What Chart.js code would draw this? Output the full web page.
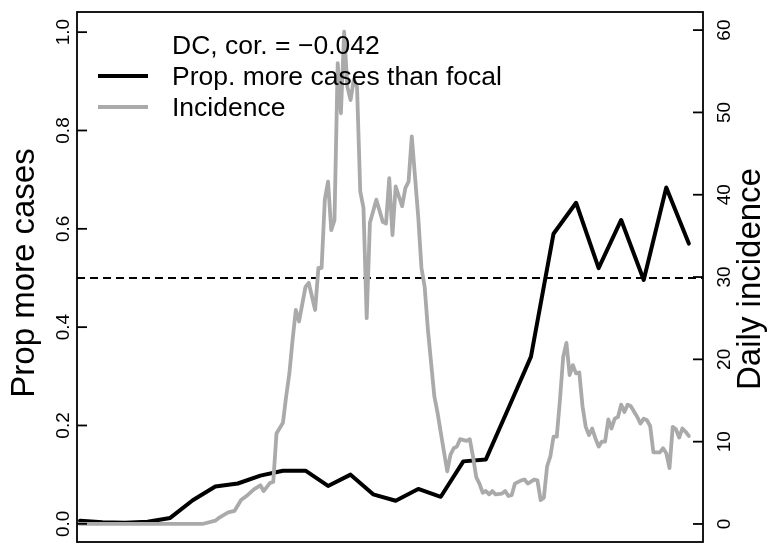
<!DOCTYPE html>
<html>
<head>
<meta charset="utf-8">
<script src="https://cdn.jsdelivr.net/npm/chart.js@4"></script>
<style>
  body { margin: 0; background: #fff; }
  canvas { display: block; }
</style>
</head>
<body>
<canvas id="propChart" width="768" height="544"></canvas>
<script>
// weekly proportion of places with more cases than the focal one
const weekDays = [0, 7, 14, 21, 28, 35, 42, 49, 56, 63, 70, 77, 84, 91, 98, 105, 112, 119, 126, 133, 140, 147, 154, 161, 168, 175, 182, 189];
const propMore = [0.006, 0.003, 0.002, 0.004, 0.012, 0.048, 0.076, 0.082, 0.098, 0.108, 0.108, 0.077, 0.100, 0.060, 0.047, 0.071, 0.055, 0.127, 0.131, 0.235, 0.340, 0.590, 0.653, 0.520, 0.618, 0.496, 0.684, 0.570];

// daily incidence (right axis)
const incDays = [0, 38, 42, 43, 46, 48, 50, 52, 54, 56, 57, 59, 60, 61, 63, 64, 65, 66, 67, 68, 70, 71, 73, 74, 75, 76, 77, 78, 79, 80, 81, 82, 83, 84, 85, 86, 87, 88, 89, 90, 92, 94, 95, 96, 97, 98, 100, 101, 102, 103, 104, 105, 106, 107, 108, 110, 111, 112, 114, 115, 116, 117, 118, 120, 121, 122, 123, 124, 125, 126, 127, 128, 129, 131, 132, 133, 134, 135, 137, 138, 139, 141, 142, 143, 144, 145, 146, 147, 148, 149, 150, 151, 152, 153, 154, 155, 156, 157, 158, 159, 160, 161, 162, 163, 164, 165, 166, 167, 168, 169, 170, 171, 173, 174, 175, 176, 177, 178, 180, 181, 182, 183, 184, 185, 186, 187, 188, 189];
const incidence = [0, 0, 0.4, 0.7, 1.4, 1.6, 2.9, 3.5, 4.2, 4.7, 4.0, 5.0, 5.1, 11, 12.3, 15.5, 18.3, 22.4, 26, 24.6, 28.8, 29.3, 26, 31.1, 31.1, 39.4, 41.6, 35.7, 36.9, 56, 49.9, 59.8, 53.1, 51.5, 54, 53.1, 40.4, 38.4, 25, 36.6, 39.4, 36.7, 36.5, 42, 35.1, 41, 38.6, 40.8, 41.6, 47.1, 42.2, 37.3, 31.1, 28.8, 23.6, 15.5, 13.5, 11.1, 6.4, 8.4, 9.2, 9.4, 10.3, 10.1, 10.3, 8.2, 5.7, 4.9, 3.8, 4.0, 3.6, 4.0, 3.6, 3.7, 4.0, 3.4, 3.5, 4.9, 5.3, 5.4, 4.9, 5.4, 5.3, 2.9, 3.2, 7.0, 8.2, 10.6, 10.6, 15.1, 20.3, 22.0, 18.1, 19.3, 18.3, 18.4, 14.3, 11.8, 10.8, 11.6, 10.4, 9.4, 10.0, 10.0, 12.7, 11.6, 12.8, 13.0, 14.5, 13.6, 14.5, 14.3, 13.0, 12.2, 12.8, 12.6, 11.9, 8.7, 8.7, 9.2, 8.6, 6.8, 11.8, 11.5, 10.5, 11.6, 11.2, 10.7];

const leftTicks = [0, 0.2, 0.4, 0.6, 0.8, 1.0];
const leftTickLabels = ["0.0", "0.2", "0.4", "0.6", "0.8", "1.0"];
const rightTicks = [0, 10, 20, 30, 40, 50, 60];
const rightTickLabels = ["0", "10", "20", "30", "40", "50", "60"];
const refLine = 0.5;

const leftTitle = "Prop more cases";
const rightTitle = "Daily incidence";
const legendTitle = "DC, cor. = \u22120.042";
const legendLabels = ["Prop. more cases than focal", "Incidence"];
const legendColors = ["#000000", "#aaaaaa"];

const FONT = '"Liberation Sans", Arial, Helvetica, sans-serif';

///////////////////////////////////////////

// R-ish frame: box, inward ticks, rotated labels, legend with no box
const frame = {
  id: "frame",
  beforeDatasetsDraw(chart) {
    const ctx = chart.ctx;
    const a = chart.chartArea;
    const y = chart.scales.y.getPixelForValue(refLine);
    ctx.save();
    ctx.strokeStyle = "#000";
    ctx.lineWidth = 1.8;
    ctx.setLineDash([8, 5]);
    ctx.beginPath();
    ctx.moveTo(a.left, y);
    ctx.lineTo(a.right, y);
    ctx.stroke();
    ctx.restore();
  },
  afterDraw(chart) {
    const ctx = chart.ctx;
    const a = chart.chartArea;
    const yL = chart.scales.y;
    const yR = chart.scales.y2;
    ctx.save();
    ctx.strokeStyle = "#000";
    ctx.fillStyle = "#000";
    ctx.lineWidth = 1.8;
    ctx.strokeRect(a.left, a.top, a.right - a.left, a.bottom - a.top);

    // left axis
    ctx.font = "19px " + FONT;
    ctx.textAlign = "center";
    ctx.textBaseline = "alphabetic";
    leftTicks.forEach((v, i) => {
      const py = yL.getPixelForValue(v);
      ctx.beginPath();
      ctx.moveTo(a.left, py);
      ctx.lineTo(a.left + 10, py);
      ctx.stroke();
      ctx.save();
      ctx.translate(69, py);
      ctx.rotate(-Math.PI / 2);
      ctx.fillText(leftTickLabels[i], 0, 0);
      ctx.restore();
    });

    // right axis
    rightTicks.forEach((v, i) => {
      const py = yR.getPixelForValue(v);
      ctx.beginPath();
      ctx.moveTo(a.right, py);
      ctx.lineTo(a.right - 10, py);
      ctx.stroke();
      ctx.save();
      ctx.translate(730, py);
      ctx.rotate(-Math.PI / 2);
      ctx.fillText(rightTickLabels[i], 0, 0);
      ctx.restore();
    });

    // axis titles
    const midY = (a.top + a.bottom) / 2;
    ctx.font = "33px " + FONT;
    ctx.save();
    ctx.translate(34, midY - 4);
    ctx.rotate(-Math.PI / 2);
    ctx.fillText(leftTitle, 0, 0);
    ctx.restore();
    ctx.save();
    ctx.translate(760, midY + 2);
    ctx.rotate(-Math.PI / 2);
    ctx.fillText(rightTitle, 0, 0);
    ctx.restore();

    // legend
    ctx.font = "26.5px " + FONT;
    ctx.textAlign = "left";
    ctx.fillText(legendTitle, 172, 54);
    ctx.lineWidth = 4;
    legendLabels.forEach((lab, i) => {
      const ly = 76 + i * 31;
      ctx.strokeStyle = legendColors[i];
      ctx.beginPath();
      ctx.moveTo(98, ly);
      ctx.lineTo(148, ly);
      ctx.stroke();
      ctx.fillText(lab, 172, ly + 9);
    });
    ctx.restore();
  }
};

const propData = {
  datasets: [
    {
      label: legendLabels[1],
      data: incDays.map((d, i) => ({ x: d, y: incidence[i] })),
      borderColor: legendColors[1],
      borderWidth: 3.8,
      yAxisID: "y2",
    },
    {
      label: legendLabels[0],
      data: weekDays.map((d, i) => ({ x: d, y: propMore[i] })),
      borderColor: legendColors[0],
      borderWidth: 4,
      yAxisID: "y",
    },
  ],
};

const propConfig = {
  type: "line",
  data: propData,
  plugins: [frame],
  options: {
    responsive: false,
    animation: false,
    layout: { padding: { left: 77, right: 65, top: 12, bottom: 2 } },
    elements: {
      point: { radius: 0 },
      line: { tension: 0, borderJoinStyle: "round", borderCapStyle: "round", fill: false },
    },
    plugins: { legend: { display: false }, tooltip: { enabled: false } },
    scales: {
      x: { type: "linear", min: -0.93, max: 193.4, display: false },
      y: { min: -0.037, max: 1.041, display: false },
      y2: { min: -2.19, max: 62.2, display: false, position: "right" },
    },
  },
};

const myPropChart = new Chart(document.getElementById("propChart"), propConfig);
</script>
</body>
</html>
